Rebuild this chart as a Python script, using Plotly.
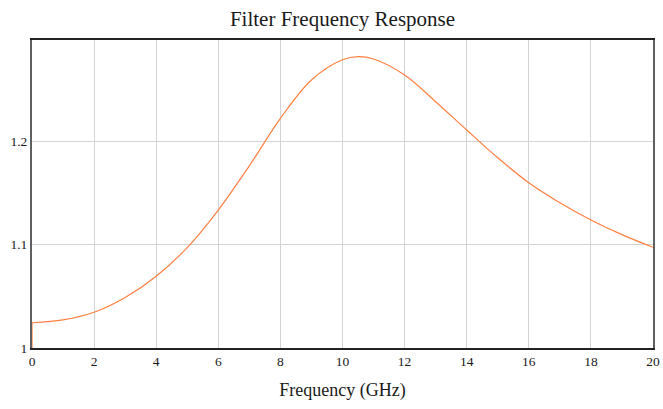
import plotly.graph_objects as go

freq_ghz = [0, 1, 2, 3, 4, 5, 6, 7, 8, 9, 10, 10.5, 11, 12, 13, 14, 15, 16, 17, 18, 19, 20]
response = [1.0244, 1.0272, 1.0345, 1.0487, 1.0693, 1.097, 1.1333, 1.176, 1.2219, 1.259,
            1.2785, 1.2815, 1.2792, 1.2638, 1.238, 1.2106, 1.1838, 1.1597, 1.1404, 1.1237,
            1.1095, 1.0973]
start_x = [0, 0]
start_y = [1.0, 1.0244]

x_ticks = [0, 2, 4, 6, 8, 10, 12, 14, 16, 18, 20]
y_ticks = [1, 1.1, 1.2]
y_tick_labels = ["1", "1.1", "1.2"]

line_color = "#ff7f40"
font_family = "Liberation Serif"
text_color = "#1a1a1a"

W, H = 663, 409

fig = go.Figure()
fig.add_trace(go.Scatter(x=start_x, y=start_y, mode="lines",
                         line=dict(color=line_color, width=1.2), showlegend=False,
                         hoverinfo="skip"))
fig.add_trace(go.Scatter(x=freq_ghz, y=response, mode="lines",
                         line=dict(color=line_color, width=1.2, shape="spline", smoothing=1.0),
                         showlegend=False))

fig.update_layout(
    width=W, height=H,
    margin=dict(l=32, r=10, t=40, b=61),
    paper_bgcolor="white", plot_bgcolor="white",
    font=dict(family=font_family, color=text_color),
    title=dict(text="Filter Frequency Response", x=0.5, xref="paper",
               y=1 - 19 / H, yref="container", yanchor="middle",
               font=dict(size=21, family=font_family, color=text_color)),
)
fig.update_xaxes(
    range=[0, 20], tickvals=x_ticks, ticks="", showgrid=True, automargin=False,
    gridcolor="#d3d3d3", gridwidth=1, zeroline=False,
    showline=True, linecolor="#222222", linewidth=2, mirror=True,
    tickfont=dict(size=13.5, family=font_family, color=text_color),
    title=dict(text="Frequency (GHz)", standoff=15,
               font=dict(size=18, family=font_family, color=text_color)),
)
fig.update_yaxes(
    range=[1, 1.2976], tickvals=y_ticks, ticktext=y_tick_labels, ticks="",
    showgrid=True, automargin=False, gridcolor="#d3d3d3", gridwidth=1, zeroline=False,
    showline=True, linecolor="#606060", linewidth=2, mirror=True,
    tickfont=dict(size=13.5, family=font_family, color=text_color),
)

fig.write_html(
    "out.html",
    config={"displayModeBar": False},
    post_script="document.body.style.margin='0';document.documentElement.style.overflow='hidden';",
)
